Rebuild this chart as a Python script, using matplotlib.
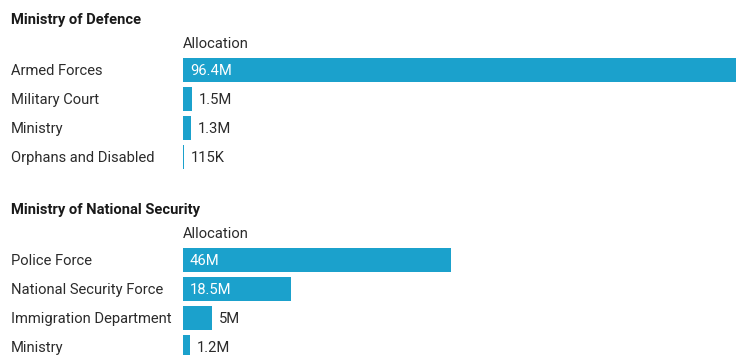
import matplotlib
matplotlib.use("Agg")
import matplotlib.pyplot as plt
import matplotlib.transforms as mtransforms

plt.rcParams['font.family'] = ['Roboto', 'DejaVu Sans']

# Section 1
defence_items = ["Armed Forces", "Military Court", "Ministry", "Orphans and Disabled"]
defence_alloc = [96.4e6, 1.5e6, 1.3e6, 115e3]

# Section 2
security_items = ["Police Force", "National Security Force", "Immigration Department", "Ministry"]
security_alloc = [46e6, 18.5e6, 5e6, 1.2e6]

sections = [
    ("Ministry of Defence", defence_items, defence_alloc),
    ("Ministry of National Security", security_items, security_alloc),
]

W, H = 736, 355
BAR_COLOR = "#1ba1cc"
TEXT_COLOR = "#2b2b2b"
FS = 10.6
X0 = 183           # pixel where bars start
PX_PER_M = 5.83    # pixel per million
ROW = 29           # row pitch in px

def fmt(v):
    if v >= 1e6:
        s = f"{v / 1e6:.1f}".rstrip("0").rstrip(".")
        return s + "M"
    return f"{v / 1e3:.0f}K"

fig = plt.figure(figsize=(W / 100, H / 100), dpi=100)
fig.patch.set_facecolor("white")

title_y = [20, 210]
for (title, items, vals), ty in zip(sections, title_y):
    fig.text(11 / W, 1 - ty / H, title, fontsize=FS, fontweight="bold",
             color="#1a1a1a", va="center", ha="left")
    fig.text(X0 / W, 1 - (ty + 24) / H, "Allocation", fontsize=FS,
             color=TEXT_COLOR, va="center", ha="left")

    top = ty - 1 + 51 - ROW / 2
    n = len(items)
    ax = fig.add_axes([X0 / W, 1 - (top + n * ROW) / H, 1 - X0 / W, n * ROW / H])
    ax.set_xlim(0, (W - X0) / PX_PER_M)
    ax.set_ylim(n - 0.5, -0.5)
    ax.axis("off")

    vals_m = [v / 1e6 for v in vals]
    ax.barh(range(n), vals_m, height=24.5 / ROW, color=BAR_COLOR, clip_on=True)

    trans = mtransforms.blended_transform_factory(fig.transFigure, ax.transData)
    for i, (name, v, vm) in enumerate(zip(items, vals, vals_m)):
        ax.annotate(name, (11 / W, i), xycoords=trans, xytext=(0, -1),
                    textcoords="offset pixels", fontsize=FS,
                    color=TEXT_COLOR, va="center", ha="left")
        if vm > 10:
            ax.annotate(fmt(v), (0, i), xytext=(7, -1), textcoords="offset pixels",
                        fontsize=FS, color="white", va="center", ha="left")
        else:
            ax.annotate(fmt(v), (vm, i), xytext=(7, -1), textcoords="offset pixels",
                        fontsize=FS, color=TEXT_COLOR, va="center", ha="left")

fig.savefig("out.png", dpi=100)
